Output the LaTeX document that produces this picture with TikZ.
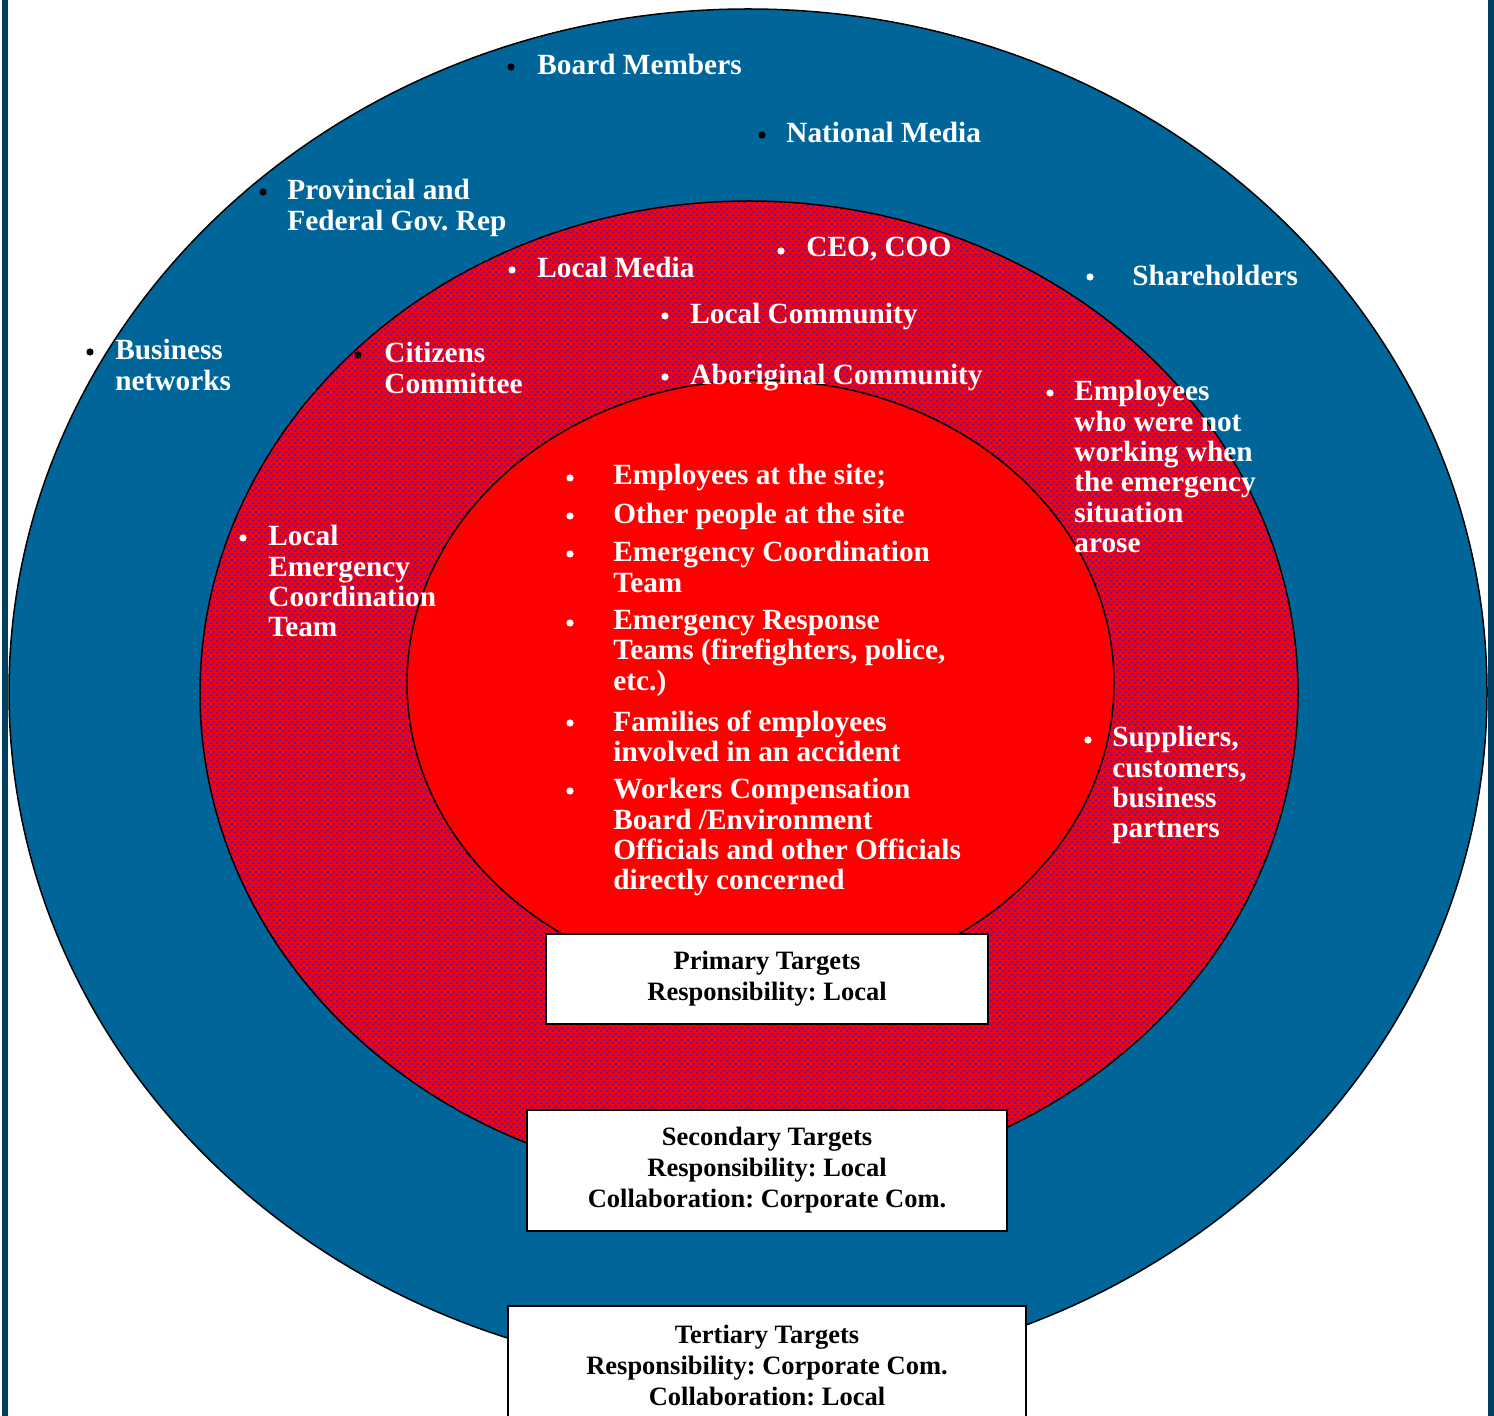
\documentclass[tikz,border=0pt]{standalone}
\usepackage{fontspec}
\setmainfont{Liberation Serif}
\usetikzlibrary{patterns.meta}
\definecolor{ringblue}{RGB}{0,102,153}
\definecolor{edgeblue}{RGB}{0,63,95}
\definecolor{dotpurple}{RGB}{112,16,160}
\pgfdeclarepattern{
  name=checkdots, type=uncolored,
  bottom left={\pgfpoint{0pt}{0pt}}, top right={\pgfpoint{3pt}{3pt}},
  tile size={\pgfpoint{3pt}{3pt}},
  code={
    \pgfpathrectangle{\pgfpoint{0pt}{0pt}}{\pgfpoint{1.3pt}{1.3pt}}
    \pgfpathrectangle{\pgfpoint{1.5pt}{1.5pt}}{\pgfpoint{1.3pt}{1.3pt}}
    \pgfusepath{fill}
  }}
\tikzset{
  lbl/.style={anchor=north west, inner sep=0pt, align=left, text=white,
    font=\fontsize{14.65pt}{15.2pt}\selectfont\bfseries\frenchspacing},
  bul/.style={circle, inner sep=0pt, minimum size=3.6pt, fill=#1},
  tbox/.style={draw=black, line width=0.8pt, fill=white, align=center, text=black,
    inner sep=0pt, font=\fontsize{13.25pt}{15.5pt}\selectfont\bfseries\frenchspacing},
  ringline/.style={line width=0.75pt, draw=black}
}
\begin{document}
\frenchspacing
\begin{tikzpicture}[x=0.5pt, y=-0.5pt]
\useasboundingbox (0,0) rectangle (1494,1416);
% side bars
\fill[edgeblue] (2,0) rectangle (8,1416);
\fill[edgeblue] (1488,0) rectangle (1494,1416);
% outer ring
\draw[ringline, fill=ringblue] (748,692) ellipse [x radius=369.5pt, y radius=341.5pt];
% middle ring
\fill[red] (749,693) ellipse [x radius=274.5pt, y radius=246pt];
\fill[pattern=checkdots, pattern color=dotpurple] (749,693) ellipse [x radius=274.5pt, y radius=246pt];
\draw[ringline] (749,693) ellipse [x radius=274.5pt, y radius=246pt];
% inner core
\draw[ringline, fill=red] (760.5,683) ellipse [x radius=176.75pt, y radius=151.5pt];

% boxes
\node[tbox, minimum width=259pt, minimum height=59.5pt] (tert) at (767,1365.5)
  {Tertiary Targets\\Responsibility: Corporate Com.\\Collaboration: Local};
\node[tbox, minimum width=240pt, minimum height=60.5pt] (sec) at (767,1170.5)
  {Secondary Targets\\Responsibility: Local\\Collaboration: Corporate Com.};
\node[tbox, minimum width=221pt, minimum height=45pt] (prim) at (767,979)
  {Primary Targets\\Responsibility: Local};

% outer ring labels
\node[bul=black] (boardb) at (511,67) {};
\node[lbl] (board) at (537,54) {Board Members};
\node[bul=black] (natmediab) at (762,135) {};
\node[lbl] (natmedia) at (786,122) {National Media};
\node[bul=black] (provb) at (263,192) {};
\node[lbl] (prov) at (287,179) {Provincial and\\Federal Gov. Rep};
\node[bul=black] (businessb) at (90,352) {};
\node[lbl] (business) at (115,339) {Business\\networks};
\node[bul=white] (shareb) at (1090,277) {};
\node[lbl] (share) at (1132,265) {Shareholders};

% middle ring labels
\node[bul=white] (localmediab) at (512,270) {};
\node[lbl] (localmedia) at (537,257) {Local Media};
\node[bul=white] (ceob) at (781,251) {};
\node[lbl] (ceo) at (806,237) {CEO, COO};
\node[bul=white] (localcommb) at (665,316) {};
\node[lbl] (localcomm) at (690,303) {Local Community};
\node[bul=white] (aborigb) at (665,377) {};
\node[lbl] (aborig) at (690,364) {Aboriginal Community};
\node[bul=black] (citizensb) at (358,355) {};
\node[lbl] (citizens) at (384,342) {Citizens\\Committee};
\node[bul=white] (localemergb) at (243,538) {};
\node[lbl] (localemerg) at (268,525) {Local\\Emergency\\Coordination\\Team};
\node[bul=white] (empnotb) at (1050,393) {};
\node[lbl] (empnot) at (1074,380) {Employees\\who were not\\working when\\the emergency\\situation\\arose};
\node[bul=white] (suppliersb) at (1088,740) {};
\node[lbl] (suppliers) at (1112,726) {Suppliers,\\customers,\\business\\partners};

% inner core labels
\node[bul=white] (in1b) at (570,478) {};
\node[lbl] (in1) at (613,464) {Employees at the site;};
\node[bul=white] (in2b) at (570,516) {};
\node[lbl] (in2) at (613,503) {Other people at the site};
\node[bul=white] (in3b) at (570,554) {};
\node[lbl] (in3) at (613,541) {Emergency Coordination\\Team};
\node[bul=white] (in4b) at (570,623) {};
\node[lbl] (in4) at (613,610) {Emergency Response\\Teams (firefighters, police,\\etc.)};
\node[bul=white] (in5b) at (570,723) {};
\node[lbl] (in5) at (613,710) {Families of employees\\involved in an accident};
\node[bul=white] (in6b) at (570,791) {};
\node[lbl] (in6) at (613,778) {Workers Compensation\\Board /Environment\\Officials and other Officials\\directly concerned};
\end{tikzpicture}
\end{document}
